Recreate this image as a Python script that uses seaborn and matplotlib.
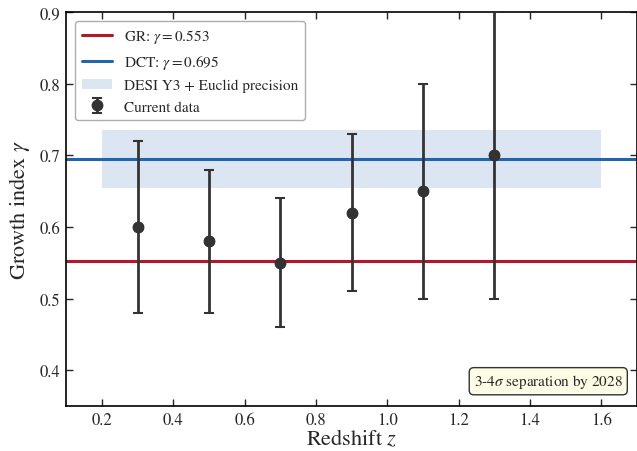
import matplotlib
matplotlib.use("Agg")
import matplotlib.pyplot as plt
import seaborn as sns
import numpy as np
import pandas as pd

z = [0.3, 0.5, 0.7, 0.9, 1.1, 1.3]
gamma = [0.60, 0.58, 0.55, 0.62, 0.65, 0.70]
err = [0.12, 0.10, 0.09, 0.11, 0.15, 0.20]
gamma_gr = 0.553
gamma_dct = 0.695
band_half = 0.04
band_x = [0.2, 1.6]

sns.set_style("ticks")
plt.rcParams['font.family'] = ['STIXGeneral', 'DejaVu Serif']
plt.rcParams['mathtext.fontset'] = 'stix'

fig = plt.figure(figsize=(6.37, 4.52), dpi=100)
ax = fig.add_axes([0.104, 0.0996, 0.896, 0.8714])

df = pd.DataFrame({"z": z, "gamma": gamma, "err": err})

ax.axhline(gamma_gr, color="#b2182b", lw=2.2, label=r"GR: $\gamma=0.553$", zorder=2)
ax.axhline(gamma_dct, color="#2166ac", lw=2.2, label=r"DCT: $\gamma=0.695$", zorder=2)
ax.fill_between(band_x, gamma_dct - band_half, gamma_dct + band_half,
                color="#dce6f2", lw=0, label="DESI Y3 + Euclid precision", zorder=1)
ax.errorbar(df["z"], df["gamma"], yerr=df["err"], fmt="o", color="#333333",
            ms=7.5, capsize=3.5, elinewidth=2, capthick=1.5, label="Current data", zorder=3)
sns.scatterplot(data=df, x="z", y="gamma", color="#333333", s=55, ax=ax, zorder=4,
                legend=False, edgecolor="#333333")

ax.set_xlim(0.1, 1.7)
ax.set_ylim(0.35, 0.9)
ax.set_xticks([0.2, 0.4, 0.6, 0.8, 1.0, 1.2, 1.4, 1.6])
ax.set_yticks([0.4, 0.5, 0.6, 0.7, 0.8, 0.9])
ax.set_xlabel(r"Redshift $z$", fontsize=16, labelpad=0)
ax.set_ylabel(r"Growth index $\gamma$", fontsize=16, labelpad=6)
ax.tick_params(direction="in", top=True, right=True, labelsize=12, length=5, width=1, pad=4)
for s in ax.spines.values():
    s.set_linewidth(1.2)
    s.set_color("black")

ax.legend(loc="upper left", fontsize=11, frameon=True, edgecolor="#999999", fancybox=True,
          borderaxespad=0.6)
ax.text(0.975, 0.04, r"3-4$\sigma$ separation by 2028", transform=ax.transAxes,
        ha="right", va="bottom", fontsize=11,
        bbox=dict(boxstyle="round,pad=0.3", facecolor="#fdfde6", edgecolor="#333333", lw=1))

fig.savefig("out.png", dpi=100)
